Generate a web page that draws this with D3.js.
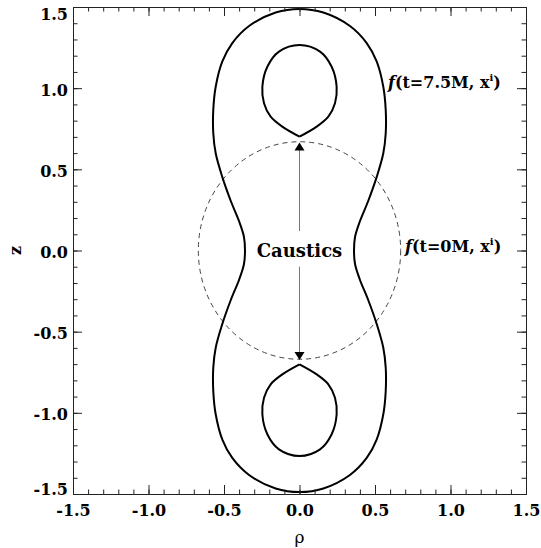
<!DOCTYPE html>
<html>
<head>
<meta charset="utf-8">
<script src="https://cdn.jsdelivr.net/npm/d3@7"></script>
<style>
  body { margin: 0; background: #fff; }
  svg text { font-family: "DejaVu Serif", serif; font-weight: bold; }
</style>
</head>
<body>
<svg id="chart" width="541" height="548"></svg>
<script>
// outer surface f(t=7.5M), upper right quarter (rho, z)
var outerRho = [0, 0.158, 0.334, 0.445, 0.511, 0.555, 0.571, 0.571, 0.555, 0.512, 0.455, 0.400, 0.368, 0.361];
var outerZ   = [1.488, 1.466, 1.383, 1.278, 1.165, 1.009, 0.866, 0.722, 0.599, 0.455, 0.305, 0.180, 0.085, 0];

// inner loop, right half from top down to the cusp
var innerRho = [0, 0.136, 0.213, 0.246, 0.235, 0.191, 0.114, 0];
var innerZ   = [1.266, 1.225, 1.132, 1.009, 0.907, 0.824, 0.763, 0.701];

// initial sphere f(t=0M)
var circleR = 0.67;
var arrowTop = 0.665, arrowBottom = -0.675;
var arrowGapTop = 0.12, arrowGapBottom = -0.1;

var majorTicks = [-1.5, -1.0, -0.5, 0.0, 0.5, 1.0, 1.5];
var minorTicks = d3.range(-15, 16).map(function (d) { return d / 10; });

var svg = d3.select("#chart");
var x = d3.scaleLinear().domain([-1.5, 1.5]).range([73, 526]);
var y = d3.scaleLinear().domain([-1.5, 1.5]).range([494, 7]);
var fmt = function (d) { return d.toFixed(1); };

// build closed outer curve by symmetry
var quarter = outerRho.map(function (r, i) { return [r, outerZ[i]]; });
var rightHalf = quarter.concat(quarter.slice(0, -1).reverse().map(function (p) { return [p[0], -p[1]]; }));
var leftHalf = rightHalf.slice(1, -1).reverse().map(function (p) { return [-p[0], p[1]]; });
var outer = rightHalf.concat(leftHalf);

var innerRight = innerRho.map(function (r, i) { return [r, innerZ[i]]; });
var innerUp = innerRight.slice().reverse().map(function (p) { return [-p[0], p[1]]; })
    .concat(innerRight.slice(1));
var innerDown = innerUp.map(function (p) { return [p[0], -p[1]]; });

var lineClosed = d3.line().x(function (d) { return x(d[0]); }).y(function (d) { return y(d[1]); })
    .curve(d3.curveCatmullRomClosed);
var lineOpen = d3.line().x(function (d) { return x(d[0]); }).y(function (d) { return y(d[1]); })
    .curve(d3.curveCatmullRom);

// dashed initial sphere
svg.append("ellipse")
    .attr("cx", x(0)).attr("cy", y(0))
    .attr("rx", x(circleR) - x(0)).attr("ry", y(0) - y(circleR))
    .attr("fill", "none").attr("stroke", "#444").attr("stroke-width", 1)
    .attr("stroke-dasharray", "5,4");

svg.append("path").attr("d", lineClosed(outer))
    .attr("fill", "none").attr("stroke", "#000").attr("stroke-width", 2);
[innerUp, innerDown].forEach(function (loop) {
    svg.append("path").attr("d", lineOpen(loop))
        .attr("fill", "none").attr("stroke", "#000").attr("stroke-width", 2);
});

// arrows to the caustics
svg.append("line").attr("x1", x(0)).attr("x2", x(0))
    .attr("y1", y(arrowTop) + 7).attr("y2", y(arrowGapTop))
    .attr("stroke", "#777").attr("stroke-width", 1);
svg.append("line").attr("x1", x(0)).attr("x2", x(0))
    .attr("y1", y(arrowGapBottom)).attr("y2", y(arrowBottom) - 7)
    .attr("stroke", "#777").attr("stroke-width", 1);
svg.append("path")
    .attr("d", "M" + x(0) + "," + y(arrowTop) + "l-5,8h10z").attr("fill", "#000");
svg.append("path")
    .attr("d", "M" + x(0) + "," + y(arrowBottom) + "l-5,-8h10z").attr("fill", "#000");

svg.append("text").attr("x", x(0)).attr("y", y(0)).attr("dy", "0.35em")
    .attr("text-anchor", "middle").style("font-size", "18px").text("Caustics");

function fLabel(px, pz, t) {
    var tx = svg.append("text").attr("x", x(px)).attr("y", y(pz)).style("font-size", "16px");
    tx.append("tspan").style("font-style", "italic").text("f");
    tx.append("tspan").text("(t=" + t + ", x");
    tx.append("tspan").attr("dy", -7).style("font-size", "10px").text("i");
    tx.append("tspan").attr("dy", 7).text(")");
}
fLabel(0.586, 1.0, "7.5M");
fLabel(0.699, -0.01, "0M");

// axes with inward ticks on all four sides
function addAxis(axis, tf, size, labels, pad) {
    var g = svg.append("g").attr("transform", tf)
        .call(axis.tickSize(-size).tickPadding(pad).tickFormat(labels ? fmt : ""));
    g.select(".domain").attr("stroke", "#222");
    g.selectAll(".tick line").attr("stroke", "#222");
    g.selectAll("text").attr("fill", "#000").style("font-size", "16px")
        .style("font-family", "DejaVu Serif, serif").style("font-weight", "bold");
    return g;
}
var bottomY = "translate(0," + y(-1.5) + ")", topY = "translate(0," + y(1.5) + ")";
var leftX = "translate(" + x(-1.5) + ",0)", rightX = "translate(" + x(1.5) + ",0)";

addAxis(d3.axisBottom(x).tickValues(minorTicks), bottomY, 4.5, false, 0);
addAxis(d3.axisBottom(x).tickValues(majorTicks), bottomY, 9, true, 11);
addAxis(d3.axisTop(x).tickValues(minorTicks), topY, 4.5, false, 0);
addAxis(d3.axisTop(x).tickValues(majorTicks), topY, 9, false, 0);
addAxis(d3.axisLeft(y).tickValues(minorTicks), leftX, 4.5, false, 0);
var yl = addAxis(d3.axisLeft(y).tickValues(majorTicks), leftX, 9, true, 5);
addAxis(d3.axisRight(y).tickValues(minorTicks), rightX, 4.5, false, 0);
addAxis(d3.axisRight(y).tickValues(majorTicks), rightX, 9, false, 0);

// end labels on the z axis sit inside the frame
yl.selectAll(".tick text").attr("y", function (d) {
    if (d === 1.5) return 7;
    if (d === -1.5) return -5;
    return 2;
});

svg.append("text").attr("transform", "translate(15," + y(0) + ") rotate(-90)")
    .attr("text-anchor", "middle").attr("dy", "0.35em").style("font-size", "16px").text("z");
svg.append("text").attr("x", x(0)).attr("y", 543).attr("text-anchor", "middle")
    .style("font-size", "17px").style("font-weight", "normal").text("ρ");
</script>
</body>
</html>
